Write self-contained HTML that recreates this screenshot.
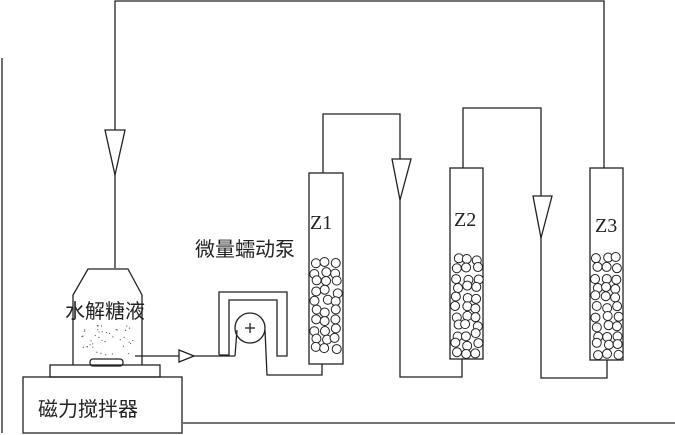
<!DOCTYPE html>
<html><head><meta charset="utf-8"><style>
html,body{margin:0;padding:0;background:#fff;width:675px;height:435px;overflow:hidden}
svg{display:block}
text{font-family:"Liberation Serif","Noto Sans CJK SC",sans-serif;fill:#222}
</style></head><body>
<svg id="s" width="675" height="435" viewBox="0 0 675 435" xmlns="http://www.w3.org/2000/svg">
<g fill="none" stroke="#222" stroke-width="1.3">
<polyline points="2,58 2,433"/>
<polyline points="183,423 675,423"/>
<polyline points="604,168 604,1 115,1 115,268"/>
<polygon points="105,130 125,130 115,175" fill="#fff"/>
<polyline points="73,365 73,295 88,269 128,269 142,295 142,365"/>
<rect x="90" y="359" width="33" height="7" rx="3"/>
<rect x="50" y="365" width="110" height="12"/>
<rect x="23" y="377" width="159" height="56"/>
<polyline points="135,356 235,356"/>
<polygon points="179,350 179,362 194,356" fill="#fff"/>
<polyline points="219,355 219,292 287,292 287,356 277,356 277,300 229,300 229,355 219,355"/>
<circle cx="250" cy="328" r="15"/>
<line x1="245" y1="328" x2="255" y2="328"/><line x1="250" y1="323" x2="250" y2="333"/>
<polyline points="235,356 237,330"/>
<polyline points="265,330 267,375 322,375 322,364"/>
<rect x="309" y="173" width="34" height="191"/>
<rect x="450" y="168" width="33" height="191"/>
<rect x="590" y="168" width="33" height="192"/>
<polyline points="323,173 323,114 400,114 400,377 462,377 462,359"/>
<polygon points="392,159 411,159 400,200" fill="#fff"/>
<polyline points="463,168 463,108 541,108 541,378 607,378 607,360"/>
<polygon points="533,196 552,196 541,238" fill="#fff"/>
<g id="beads" stroke-width="1"></g>
<g id="dots" stroke="none" fill="#555"></g>
</g>
<text x="310" y="229" font-size="20">Z1</text>
<text x="454" y="226" font-size="20">Z2</text>
<text x="595" y="232" font-size="20">Z3</text>
<text x="195" y="256" font-size="20">微量蠕动泵</text>
<text x="65" y="318" font-size="20">水解糖液</text>
<text x="38" y="416" font-size="20">磁力搅拌器</text>
</svg>
<script>
var g=document.getElementById('beads'),d=document.getElementById('dots'),ns='http://www.w3.org/2000/svg';
var seed=7;function r(){seed=(seed*9301+49297)%233280;return seed/233280;}
[[309,258],[450,254],[590,254]].forEach(function(c){
 for(var y=c[1]+5;y<358;y+=9.5){for(var i=0;i<3;i++){
  var e=document.createElementNS(ns,'circle');
  e.setAttribute('cx',c[0]+7+i*10+(r()-0.5)*4);e.setAttribute('cy',y+(r()-0.5)*4);e.setAttribute('r',4.5);e.setAttribute('fill','#fff');g.appendChild(e);}}
});
for(var k=0;k<40;k++){var e=document.createElementNS(ns,'circle');e.setAttribute('cx',80+r()*55);e.setAttribute('cy',325+r()*30);e.setAttribute('r',0.6);d.appendChild(e);}
</script>
</body></html>
